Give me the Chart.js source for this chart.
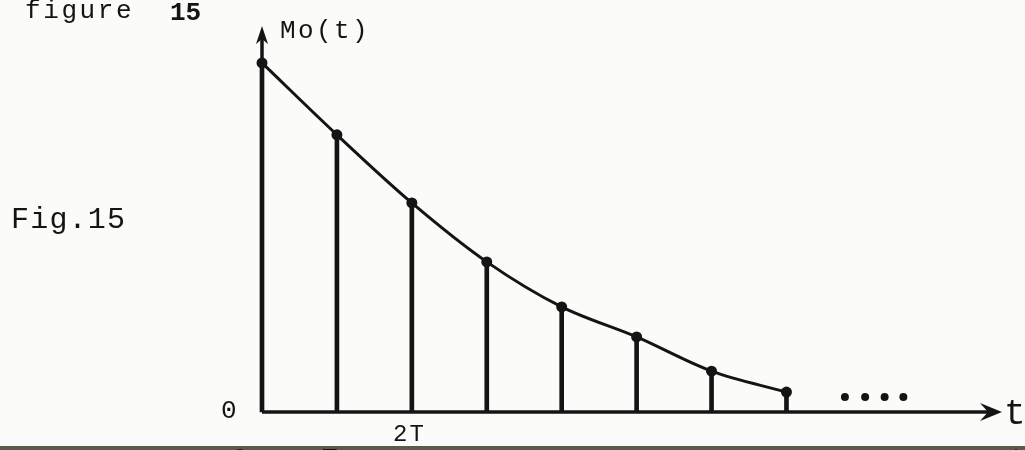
<!DOCTYPE html>
<html>
<head>
<meta charset="utf-8">
<script src="https://cdn.jsdelivr.net/npm/chart.js@4.4.0/dist/chart.umd.min.js"></script>
<style>
  html, body { margin: 0; padding: 0; background: #fbfbf9; }
  #wrap { width: 1025px; height: 450px; position: relative; }
</style>
</head>
<body>
<div id="wrap"><canvas id="fig"></canvas></div>
<script>
// sample instants (in units of T) and sampled values Mo(kT), Mo(0) = 1
const samples = [0, 1, 2, 3, 4, 5, 6, 7];
const moValues = [1.0, 0.794, 0.599, 0.430, 0.301, 0.215, 0.117, 0.057];
// the trailing "...." dots
const dotsX = [7.78, 8.05, 8.31, 8.56];
const dotsY = [0.043, 0.043, 0.043, 0.043];
// tick labels under the t axis
const tickLabels = [{ t: 1.75, text: '2T' }];

const ink = '#141414';

const stems = samples.map((t, i) => ({ x: t, y: moValues[i] }));
const dots = dotsX.map((t, i) => ({ x: t, y: dotsY[i] }));

function typed(ctx, text, x, y, size, spacing) {
    ctx.font = size + 'px "Liberation Mono", monospace';
    ctx.letterSpacing = spacing + 'px';
    ctx.fillText(text, x, y);
    ctx.letterSpacing = '0px';
}

// axes with arrows and the typed labels of the scan
const sketch = {
    id: 'sketch',
    afterDraw(chart) {
        const ctx = chart.ctx;
        const xs = chart.scales.x, ys = chart.scales.y;
        const x0 = xs.getPixelForValue(0), y0 = ys.getPixelForValue(0);
        const xEnd = xs.getPixelForValue(xs.max), yTop = ys.getPixelForValue(ys.max);
        ctx.save();
        ctx.strokeStyle = ink;
        ctx.fillStyle = ink;
        ctx.lineWidth = 3.5;
        ctx.beginPath();
        ctx.moveTo(x0, y0); ctx.lineTo(xEnd - 4, y0);
        ctx.moveTo(x0, y0); ctx.lineTo(x0, yTop + 4);
        ctx.stroke();
        // arrow heads
        ctx.beginPath();
        ctx.moveTo(xEnd + 2, y0);
        ctx.lineTo(xEnd - 20, y0 - 9);
        ctx.lineTo(xEnd - 12, y0);
        ctx.lineTo(xEnd - 20, y0 + 9);
        ctx.closePath();
        ctx.fill();
        ctx.beginPath();
        ctx.moveTo(x0, yTop - 2);
        ctx.lineTo(x0 - 6, yTop + 16);
        ctx.lineTo(x0, yTop + 11);
        ctx.lineTo(x0 + 6, yTop + 16);
        ctx.closePath();
        ctx.fill();

        ctx.textBaseline = 'alphabetic';
        typed(ctx, 'figure', 25, 18, 26, 2.6);
        ctx.font = 'bold 26px "Liberation Mono", monospace';
        ctx.fillText('15', 170, 20);
        typed(ctx, 'Fig.15', 11, 228, 30, 1.2);
        typed(ctx, 'Mo(t)', 280, 38, 26, 2.4);
        typed(ctx, '0', 221, 418, 26, 0);
        typed(ctx, 't', 1004, 424, 36, 0);
        tickLabels.forEach(l => {
            typed(ctx, l.text, xs.getPixelForValue(l.t), 441, 24, 2);
        });
        // partly cut line of text and the page edge at the bottom of the scan
        ctx.fillStyle = '#5d5a4c';
        ctx.fillRect(0, 446, 1025, 4);
        ctx.fillStyle = ink;
        typed(ctx, '0', 232, 466, 26, 0);
        typed(ctx, 'T', 322, 466, 26, 0);
        typed(ctx, 't', 1010, 466, 26, 0);
        ctx.restore();
    }
};

new Chart(document.getElementById('fig'), {
    type: 'bar',
    data: {
        datasets: [
            { type: 'bar', data: stems, backgroundColor: ink, barThickness: 4, clip: false, order: 2 },
            { type: 'line', data: stems, borderColor: ink, borderWidth: 3, cubicInterpolationMode: 'monotone',
              pointRadius: 5.5, pointBackgroundColor: ink, pointBorderWidth: 0, fill: false, clip: false, order: 1 },
            { type: 'scatter', data: dots, pointRadius: 4, pointBackgroundColor: ink, pointBorderWidth: 0, order: 1 }
        ]
    },
    options: {
        responsive: true,
        maintainAspectRatio: false,
        animation: false,
        layout: { padding: { left: 262, right: 25, top: 28, bottom: 38 } },
        plugins: { legend: { display: false }, tooltip: { enabled: false } },
        scales: {
            x: { type: 'linear', min: 0, max: 9.85, offset: false, display: false },
            y: { min: 0, max: 1.10, display: false }
        }
    },
    plugins: [sketch]
});
</script>
</body>
</html>
